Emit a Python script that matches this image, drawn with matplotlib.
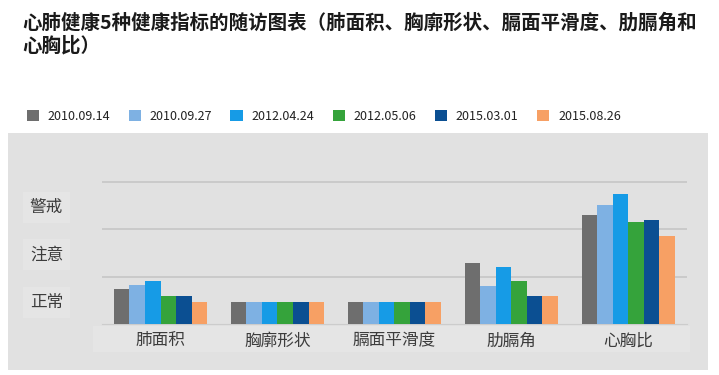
import matplotlib
matplotlib.use('Agg')
import numpy as np
import matplotlib.pyplot as plt
from matplotlib.patches import Rectangle

plt.rcParams['font.family'] = ['Noto Sans CJK SC', 'DejaVu Sans']

title = '心肺健康5种健康指标的随访图表（肺面积、胸廓形状、膈面平滑度、肋膈角和\n心胸比）'
categories = ['肺面积', '胸廓形状', '膈面平滑度', '肋膈角', '心胸比']
dates = ['2010.09.14', '2010.09.27', '2012.04.24', '2012.05.06', '2015.03.01', '2015.08.26']
# one list per visit date, values per category (0-1 正常, 1-2 注意, 2-3 警戒)
v20100914 = [0.73, 0.46, 0.46, 1.29, 2.29]
v20100927 = [0.82, 0.46, 0.46, 0.81, 2.50]
v20120424 = [0.91, 0.46, 0.46, 1.20, 2.74]
v20120506 = [0.60, 0.46, 0.46, 0.91, 2.14]
v20150301 = [0.60, 0.46, 0.46, 0.60, 2.20]
v20150826 = [0.46, 0.46, 0.46, 0.60, 1.86]
series = [v20100914, v20100927, v20120424, v20120506, v20150301, v20150826]
levels = ['正常', '注意', '警戒']

colors = ['#6e6e6e', '#7eb1e3', '#169be6', '#35a33b', '#0b4f92', '#f7a064']

fg = plt.figure(figsize=(7.19, 3.75), dpi=100)
fg.patch.set_facecolor('white')

# gray panel behind the chart
fg.patches.append(Rectangle((0.011, 0.013), 0.974, 0.632, transform=fg.transFigure,
                            facecolor='#e1e1e1', edgecolor='none', zorder=-10))
# slightly lighter band behind the category labels
fg.patches.append(Rectangle((0.129, 0.062), 0.83, 0.068, transform=fg.transFigure,
                            facecolor='#e5e5e5', edgecolor='none', zorder=-9))

fg.text(0.031, 0.965, title, fontsize=14, fontweight='bold', color='#1a1a1a',
        va='top', ha='left', linespacing=1.2)

ax = fg.add_axes([0.142, 0.136, 0.813, 0.405])
ax.set_facecolor('none')
ax.set_zorder(2)

x = np.arange(len(categories))
w = 0.133
for i, (vals, c, lbl) in enumerate(zip(series, colors, dates)):
    ax.bar(x + (i - 2.5) * w, vals, width=w, color=c, label=lbl, zorder=3)

ax.set_xlim(-0.5, len(categories) - 0.5)
ax.set_ylim(0, 3.2)

ax.set_yticks([0.5, 1.5, 2.5])
ax.set_yticklabels(levels)
ax.set_yticks([1, 2, 3], minor=True)
ax.grid(True, which='minor', axis='y', color='#c6c6c6', linewidth=1.2, zorder=1)
ax.tick_params(axis='y', which='both', length=0, pad=28, labelsize=12, labelcolor='#3c3c3c')
for t in ax.get_yticklabels():
    t.set_bbox(dict(facecolor='#e5e5e5', edgecolor='none', pad=5))

ax.set_xticks(x)
ax.set_xticklabels(categories)
ax.tick_params(axis='x', length=0, pad=6, labelsize=12, labelcolor='#3c3c3c')

for s in ['top', 'right', 'left']:
    ax.spines[s].set_visible(False)
ax.spines['bottom'].set_color('#cccccc')

leg = fg.legend(loc='center left', bbox_to_anchor=(0.03, 0.69), ncol=6, frameon=False,
                fontsize=9, handlelength=1.0, handleheight=1.0, handletextpad=0.7,
                columnspacing=1.45, borderaxespad=0)
for t in leg.get_texts():
    t.set_color('#222222')

fg.savefig('out.png', dpi=100, facecolor='white')
